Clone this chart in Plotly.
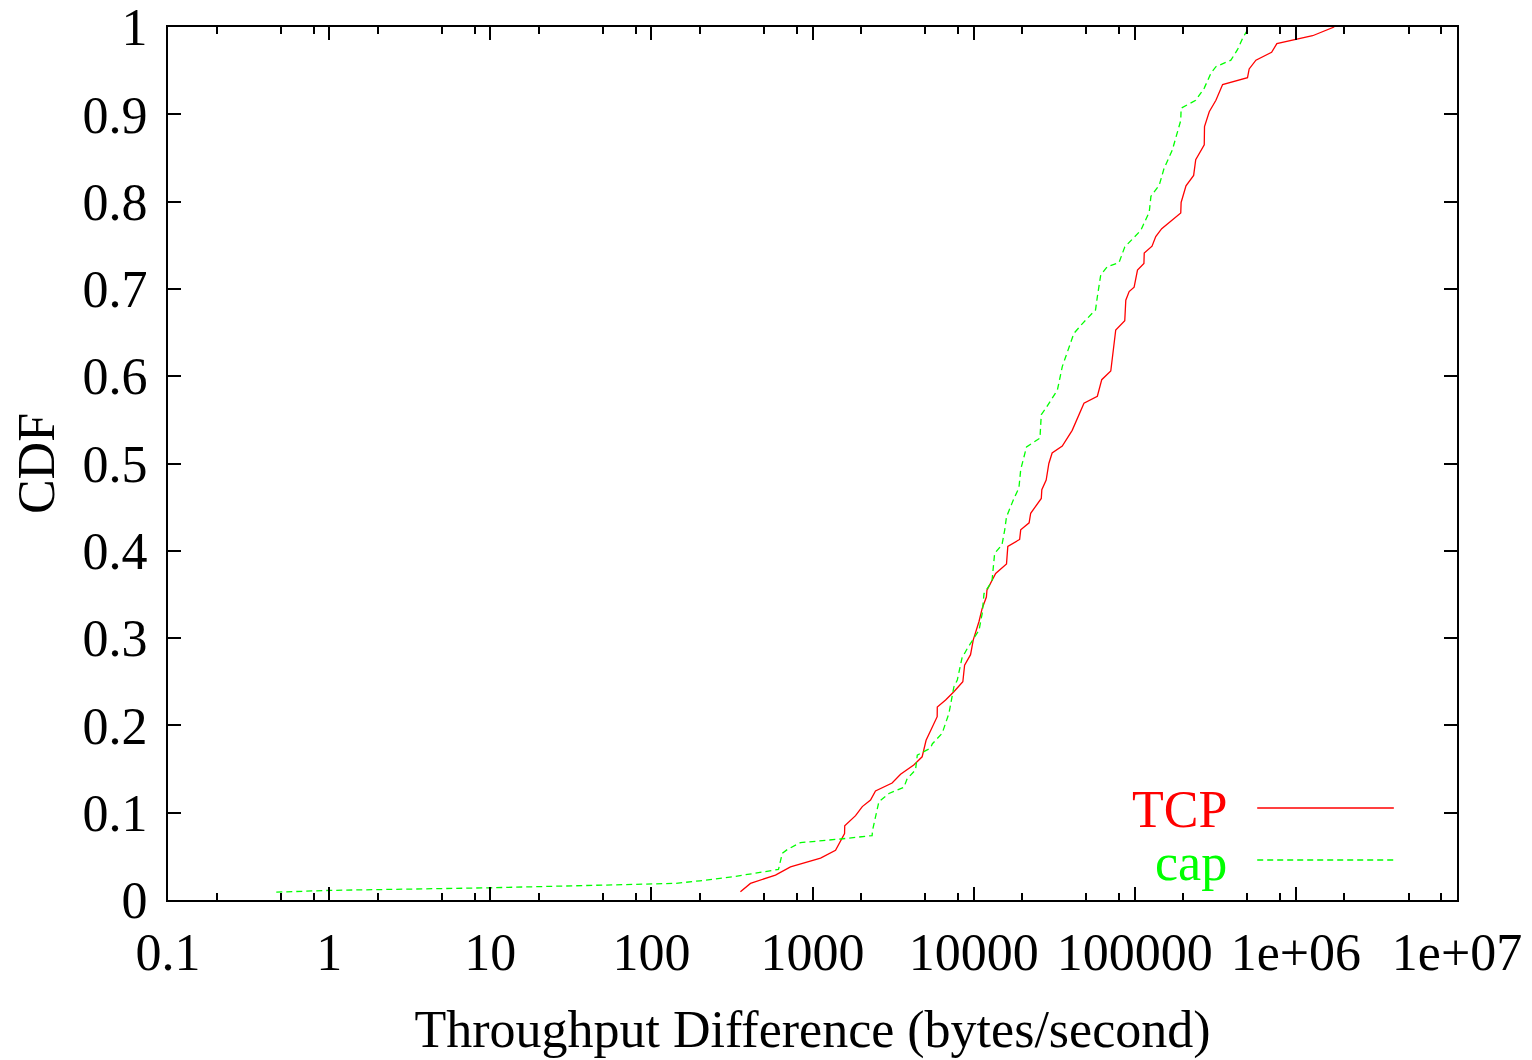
import plotly.graph_objects as go
import numpy as np

# TCP curve (throughput difference in bytes/s, CDF)
tcp_x = [357, 412, 589, 730, 1122, 1390, 1581, 1585, 1850, 2037, 2292, 2460, 3120, 3520,
         4250, 4790, 5070, 5530, 5940, 5950, 6700, 7540, 8570, 8790, 9570, 9950, 10800,
         11300, 12000, 12100, 13700, 16000, 16300, 19300, 19600, 22100, 22600, 26300,
         26500, 28200, 29300, 30700, 35500, 40900, 44000, 48400, 58600, 62400, 71000,
         72700, 76200, 86700, 88000, 92300, 99100, 104000, 114000, 114500, 128000, 135000,
         147000, 193000, 194000, 208000, 232000, 239000, 254000, 270000, 271000, 290000,
         319000, 351000, 501000, 513000, 565000, 707000, 762000, 1000000, 1270000, 1730000]
tcp_y = [0.0095, 0.019, 0.0286, 0.038, 0.048, 0.057, 0.076, 0.085, 0.0966, 0.107, 0.1145,
         0.125, 0.134, 0.144, 0.1546, 0.164, 0.183, 0.197, 0.21, 0.221, 0.229, 0.2386,
         0.25, 0.269, 0.281, 0.298, 0.319, 0.334, 0.347, 0.355, 0.374, 0.385, 0.405, 0.413,
         0.424, 0.432, 0.443, 0.46, 0.47, 0.481, 0.5, 0.512, 0.52, 0.538, 0.552, 0.569,
         0.577, 0.596, 0.606, 0.624, 0.653, 0.6636, 0.687, 0.697, 0.702, 0.7216, 0.729,
         0.741, 0.749, 0.76, 0.769, 0.787, 0.799, 0.818, 0.83, 0.848, 0.857, 0.865, 0.886,
         0.903, 0.916, 0.934, 0.942, 0.952, 0.962, 0.971, 0.981, 0.986, 0.99, 1.0]

# cap curve
cap_x = [0.47, 1, 10, 100, 140, 200, 323, 615, 649, 700, 841, 1493, 2344, 2360, 2582, 2980,
         3690, 3870, 4360, 4470, 5400, 5550, 6380, 7030, 7380, 7540, 7920, 8510, 8700, 9130,
         10800, 11300, 11600, 13000, 13500, 15000, 15600, 16000, 17800, 19100, 19600, 21300,
         25800, 26300, 28000, 33100, 35500, 41900, 47200, 57100, 58600, 61500, 67600, 79800,
         86700, 109000, 123000, 126000, 142000, 152000, 171000, 193000, 194000, 239000,
         270000, 297000, 319000, 395000, 434000, 467000, 513000]
cap_y = [0.009, 0.011, 0.014, 0.018, 0.019, 0.022, 0.0267, 0.035, 0.0535, 0.058, 0.0657,
         0.0699, 0.0737, 0.08, 0.1126, 0.122, 0.129, 0.139, 0.149, 0.166, 0.174, 0.179,
         0.191, 0.214, 0.237, 0.244, 0.252, 0.279, 0.281, 0.288, 0.309, 0.328, 0.351, 0.365,
         0.397, 0.407, 0.424, 0.439, 0.46, 0.472, 0.493, 0.519, 0.529, 0.556, 0.563, 0.584,
         0.611, 0.649, 0.66, 0.676, 0.691, 0.716, 0.7255, 0.73, 0.748, 0.767, 0.788, 0.806,
         0.819, 0.838, 0.859, 0.893, 0.907, 0.916, 0.93, 0.947, 0.9545, 0.962, 0.974, 0.987,
         1.0]

x_tickvals = [0.1, 1, 10, 100, 1000, 1e4, 1e5, 1e6, 1e7]
x_ticktext = ["0.1", "1", "10", "100", "1000", "10000", "100000", "1e+06", "1e+07"]
y_tickvals = [0, 0.1, 0.2, 0.3, 0.4, 0.5, 0.6, 0.7, 0.8, 0.9, 1]
y_ticktext = ["0", "0.1", "0.2", "0.3", "0.4", "0.5", "0.6", "0.7", "0.8", "0.9", "1"]

minor_vals = []
for d in range(-1, 7):
    for m in (2, 5, 8):
        minor_vals.append(m * 10.0 ** d)

FONT = "Liberation Serif, Times New Roman, serif"
FS = 52
RED = "#ff0000"
GREEN = "#00ff00"

fig = go.Figure()
fig.add_trace(go.Scatter(x=tcp_x, y=tcp_y, mode="lines", name="TCP",
                         line=dict(color=RED, width=1.3)))
fig.add_trace(go.Scatter(x=cap_x, y=cap_y, mode="lines", name="cap",
                         line=dict(color=GREEN, width=1.3, dash="6px,4px")))

# Legend (gnuplot style: label then sample line)
fig.add_annotation(x=0.823, y=0.104, xref="paper", yref="paper", text="TCP",
                   showarrow=False, xanchor="right", yanchor="middle",
                   font=dict(family=FONT, size=FS, color=RED))
fig.add_annotation(x=0.823, y=0.043, xref="paper", yref="paper", text="cap",
                   showarrow=False, xanchor="right", yanchor="middle",
                   font=dict(family=FONT, size=FS, color=GREEN))
fig.add_shape(type="line", xref="paper", yref="paper", x0=0.845, x1=0.951,
              y0=0.1054, y1=0.1054, line=dict(color=RED, width=1.3))
fig.add_shape(type="line", xref="paper", yref="paper", x0=0.845, x1=0.951,
              y0=0.0458, y1=0.0458, line=dict(color=GREEN, width=1.3, dash="6px,4px"))

fig.update_layout(
    width=1532, height=1060,
    margin=dict(l=160, r=83, t=19, b=168),
    paper_bgcolor="white", plot_bgcolor="white",
    showlegend=False,
    font=dict(family=FONT, size=FS, color="black"),
)
fig.update_xaxes(
    type="log", range=[-1, 7], automargin=False,
    tickvals=x_tickvals, ticktext=x_ticktext,
    ticks="inside", ticklen=13, tickwidth=2, tickcolor="black",
    showline=True, linewidth=2, linecolor="black", mirror="ticks",
    showgrid=False, zeroline=False, ticklabelstandoff=6,
    ticklabeloverflow="allow",
    tickfont=dict(family=FONT, size=FS),
    minor=dict(tickvals=minor_vals, ticks="inside", ticklen=7, tickwidth=2,
               tickcolor="black", showgrid=False),
    title=dict(text="Throughput Difference (bytes/second)",
               font=dict(family=FONT, size=FS), standoff=30),
)
fig.update_yaxes(
    range=[0, 1], automargin=False,
    tickvals=y_tickvals, ticktext=y_ticktext,
    ticks="inside", ticklen=13, tickwidth=2, tickcolor="black",
    showline=True, linewidth=2, linecolor="black", mirror="ticks",
    showgrid=False, zeroline=False, ticklabelstandoff=8,
    ticklabeloverflow="allow",
    tickfont=dict(family=FONT, size=FS),
    title=dict(text="CDF", font=dict(family=FONT, size=FS), standoff=16),
)

fig.write_html("out.html")
